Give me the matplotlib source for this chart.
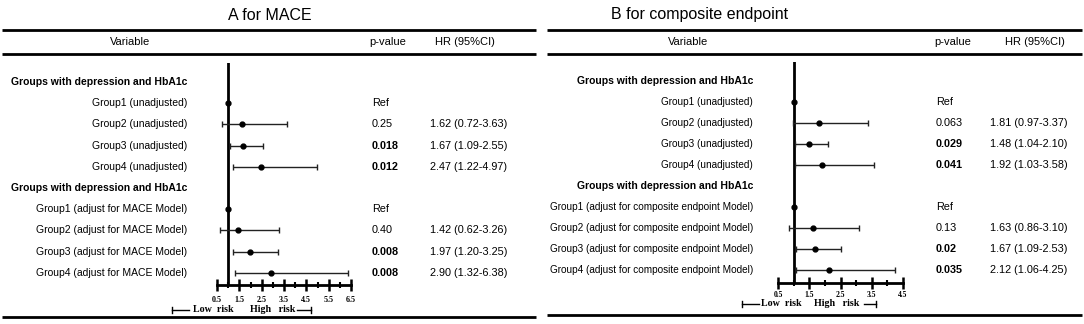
import matplotlib
matplotlib.use("Agg")
import matplotlib.pyplot as plt
from matplotlib.lines import Line2D
from matplotlib import transforms
import numpy as np

plt.rcParams['font.family'] = ['Liberation Sans', 'DejaVu Sans']

# ---------------- data ----------------
header_label = "Groups with depression and HbA1c"

A_title = "A for MACE"
A_labels = ["Group1 (unadjusted)", "Group2 (unadjusted)", "Group3 (unadjusted)", "Group4 (unadjusted)",
            "Group1 (adjust for MACE Model)", "Group2 (adjust for MACE Model)",
            "Group3 (adjust for MACE Model)", "Group4 (adjust for MACE Model)"]
A_hr = [1.00, 1.62, 1.67, 2.47, 1.00, 1.42, 1.97, 2.90]
A_lo = [None, 0.72, 1.09, 1.22, None, 0.62, 1.20, 1.32]
A_hi = [None, 3.63, 2.55, 4.97, None, 3.26, 3.25, 6.38]
A_p = ["Ref", "0.25", "0.018", "0.012", "Ref", "0.40", "0.008", "0.008"]
A_ticks = [0.5, 1.0, 1.5, 2.0, 2.5, 3.0, 3.5, 4.0, 4.5, 5.0, 5.5, 6.0, 6.5]

B_title = "B for composite endpoint"
B_labels = ["Group1 (unadjusted)", "Group2 (unadjusted)", "Group3 (unadjusted)", "Group4 (unadjusted)",
            "Group1 (adjust for composite endpoint Model)", "Group2 (adjust for composite endpoint Model)",
            "Group3 (adjust for composite endpoint Model)", "Group4 (adjust for composite endpoint Model)"]
B_hr = [1.00, 1.81, 1.48, 1.92, 1.00, 1.63, 1.67, 2.12]
B_lo = [None, 0.97, 1.04, 1.03, None, 0.86, 1.09, 1.06]
B_hi = [None, 3.37, 2.10, 3.58, None, 3.10, 2.53, 4.25]
B_p = ["Ref", "0.063", "0.029", "0.041", "Ref", "0.13", "0.02", "0.035"]
B_ticks = [0.5, 1.0, 1.5, 2.0, 2.5, 3.0, 3.5, 4.0, 4.5]

# ---------------- layout ----------------
W, H = 1084, 324
fig = plt.figure(figsize=(W / 100, H / 100), dpi=100)
pix = transforms.Affine2D().scale(1, -1).translate(0, H)  # (x from left, y from top) in pixels

rows = [1, 2, 3, 4, 6, 7, 8, 9]
header_rows = [0, 5]

FS_LAB = 7.5
FS_NUM = 7.8


def hline(x0, x1, y, lw=2.0):
    fig.add_artist(Line2D([x0, x1], [y, y], transform=pix, color='black', lw=lw, solid_capstyle='butt'))


def panel(cfg):
    x0p, x1p = cfg['ax_x']
    row0, step = cfg['row0'], cfg['step']
    ytop = cfg['ytop']
    ybot = cfg['ybot']
    r_top = (ytop - row0) / step
    r_bot = (ybot - row0) / step
    ax = fig.add_axes([x0p / W, 1 - ybot / H, (x1p - x0p) / W, (ybot - ytop) / H])
    ax.set_xlim(cfg['ticks'][0], cfg['ticks'][-1])
    ax.set_ylim(r_bot, r_top)
    for s in ['top', 'right', 'left']:
        ax.spines[s].set_visible(False)
    ax.spines['bottom'].set_linewidth(2.0)
    ax.patch.set_visible(False)
    ax.set_yticks([])
    ticks = cfg['ticks']
    major = ticks[0::2]
    minor = ticks[1::2]
    ax.set_xticks(major)
    ax.set_xticks(minor, minor=True)
    ax.set_xticklabels([f"{t:.1f}" for t in major], family='Liberation Serif', fontweight='bold',
                       fontsize=cfg['tickfs'])
    ax.tick_params(axis='x', which='major', direction='inout', length=8, width=1.8, pad=cfg['tickpad'])
    ax.tick_params(axis='x', which='minor', direction='inout', length=5, width=1.5)
    ax.axvline(1.0, color='black', lw=2.0)

    for r, hr, lo, hi in zip(rows, cfg['hr'], cfg['lo'], cfg['hi']):
        if lo is not None:
            ax.errorbar([hr], [r], xerr=[[hr - lo], [hi - hr]], fmt='o', color='black', ms=3.5,
                        elinewidth=1.0, capsize=2.5, capthick=1.0, ecolor='#222222')
        else:
            ax.plot([hr], [r], 'o', color='black', ms=3.5)

    tr = transforms.blended_transform_factory(transforms.IdentityTransform(), ax.transData)
    for r in header_rows:
        ax.text(cfg['label_x'], r, header_label, transform=tr, ha='right', va='center',
                fontsize=FS_LAB, fontweight='bold')
    for r, lab, p, hr, lo, hi in zip(rows, cfg['labels'], cfg['p'], cfg['hr'], cfg['lo'], cfg['hi']):
        ax.text(cfg['label_x'], r, lab, transform=tr, ha='right', va='center', fontsize=cfg['labfs'])
        bold = (p != "Ref") and float(p) < 0.05
        ax.text(cfg['p_x'], r, p, transform=tr, ha='left', va='center', fontsize=FS_NUM,
                fontweight='bold' if bold else 'normal')
        if lo is not None:
            ax.text(cfg['hr_x'], r, f"{hr:.2f} ({lo:.2f}-{hi:.2f})", transform=tr, ha='left',
                    va='center', fontsize=FS_NUM)

    fig.text(cfg['title_x'], 15, cfg['title'], transform=pix, ha='center', va='center', fontsize=11.5)
    hline(cfg['line_x'][0], cfg['line_x'][1], 30)
    hline(cfg['line_x'][0], cfg['line_x'][1], 54)
    hline(cfg['line_x'][0], cfg['line_x'][1], cfg['bottom_line'])
    fig.text(cfg['var_x'], 42, "Variable", transform=pix, ha='center', va='center', fontsize=8)
    fig.text(cfg['pcol_x'], 42, "p-value", transform=pix, ha='center', va='center', fontsize=8)
    fig.text(cfg['hrcol_x'], 42, "HR (95%CI)", transform=pix, ha='center', va='center', fontsize=8)

    # risk legend
    lx0, lt, hx0, hx1, ry, hlen = cfg['risk']
    fig.add_artist(Line2D([lx0, lx0 + 17], [ry, ry], transform=pix, color='black', lw=1.0))
    fig.add_artist(Line2D([lx0, lx0], [ry - 3, ry + 3], transform=pix, color='black', lw=1.0))
    fig.text(lt, ry, "Low  risk", transform=pix, ha='left', va='center', fontsize=7.2,
             family='Liberation Serif', fontweight='bold')
    fig.text(hx0, ry, "High   risk", transform=pix, ha='left', va='center', fontsize=7.2,
             family='Liberation Serif', fontweight='bold')
    fig.add_artist(Line2D([hx1 - hlen, hx1], [ry, ry], transform=pix, color='black', lw=1.0))
    fig.add_artist(Line2D([hx1, hx1], [ry - 3, ry + 3], transform=pix, color='black', lw=1.0))
    return ax


cfgA = dict(title=A_title, labels=A_labels, hr=A_hr, lo=A_lo, hi=A_hi, p=A_p, ticks=A_ticks,
            ax_x=(217, 351), row0=82, step=21.2, ytop=63, ybot=285, tickpad=4, tickfs=5.8, labfs=7.5,
            label_x=187, p_x=372, hr_x=430, title_x=270, line_x=(2, 536), bottom_line=317,
            var_x=130, pcol_x=388, hrcol_x=465, risk=(172, 193, 250, 311, 310, 14))
cfgB = dict(title=B_title, labels=B_labels, hr=B_hr, lo=B_lo, hi=B_hi, p=B_p, ticks=B_ticks,
            ax_x=(778, 903), row0=81, step=21.0, ytop=62, ybot=283, tickpad=2, tickfs=5.5, labfs=7.2,
            label_x=753, p_x=936, hr_x=990, title_x=700, line_x=(547, 1082), bottom_line=315,
            var_x=688, pcol_x=953, hrcol_x=1035, risk=(742, 761, 814, 876, 304, 12))

panel(cfgA)
panel(cfgB)

fig.savefig("out.png", dpi=100)
